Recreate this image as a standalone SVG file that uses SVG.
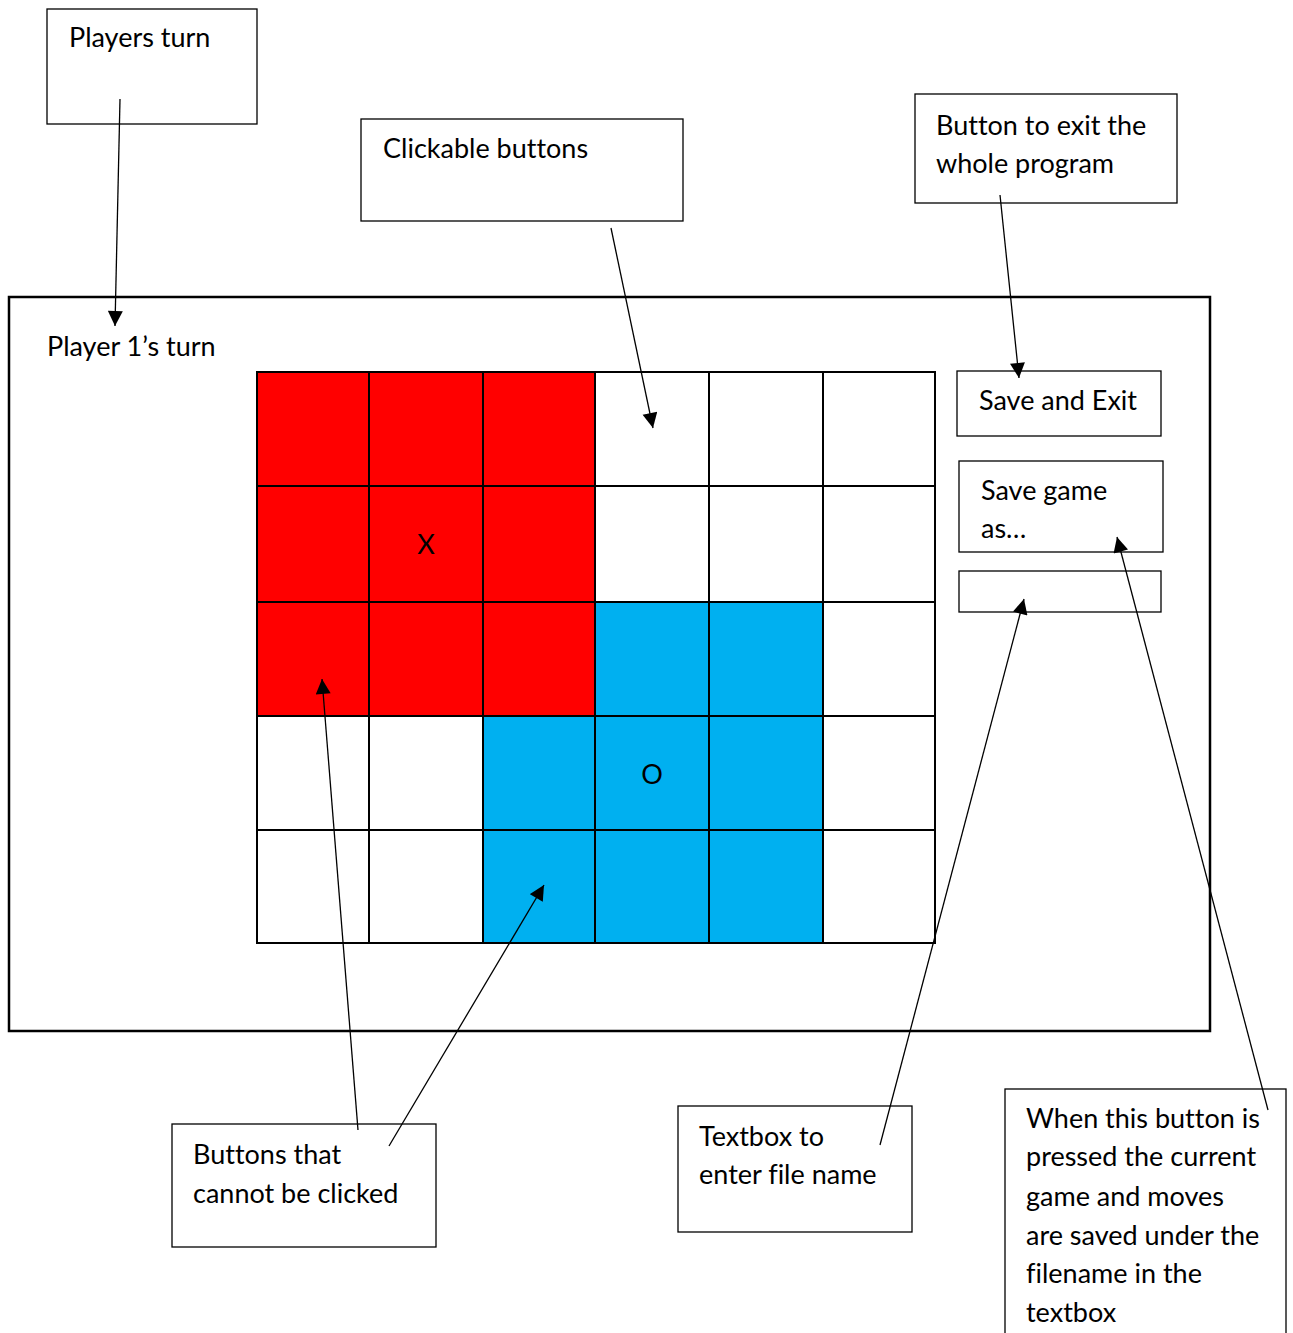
<svg xmlns="http://www.w3.org/2000/svg" width="1293" height="1333" viewBox="0 0 1293 1333">
  <style>
    .box { fill: #fff; stroke: #000; stroke-width: 1.3; }
    .frame { fill: none; stroke: #000; stroke-width: 2.5; }
    .cell { stroke: #000; stroke-width: 2; }
    .w { fill: #fff; }
    .r { fill: #ff0000; }
    .b { fill: #00b0f0; }
    .lbl { font-family: Lato, "Open Sans", "Liberation Sans", sans-serif; font-size: 27px; fill: #000; font-variant-ligatures: none; }
    .conn { stroke: #000; stroke-width: 1.3; fill: none; marker-end: url(#arrow); }
  </style>
  <defs>
    <marker id="arrow" viewBox="0 0 10 10" refX="10" refY="5" markerWidth="16" markerHeight="15" markerUnits="userSpaceOnUse" orient="auto">
      <path d="M0,0 L10,5 L0,10 Z" fill="#000"/>
    </marker>
  </defs>
  <rect width="1293" height="1333" fill="#fff"/>

  <!-- game window -->
  <g id="window">
    <rect class="frame" x="9" y="297" width="1201" height="734"/>
    <text class="lbl" x="47" y="356">Player 1’s turn</text>
  </g>

  <!-- board -->
  <g id="board">
    <rect class="cell r" x="257" y="372" width="112" height="114"/>
    <rect class="cell r" x="369" y="372" width="114" height="114"/>
    <rect class="cell r" x="483" y="372" width="112" height="114"/>
    <rect class="cell w" x="595" y="372" width="114" height="114"/>
    <rect class="cell w" x="709" y="372" width="114" height="114"/>
    <rect class="cell w" x="823" y="372" width="112" height="114"/>

    <rect class="cell r" x="257" y="486" width="112" height="116"/>
    <rect class="cell r" x="369" y="486" width="114" height="116"/>
    <rect class="cell r" x="483" y="486" width="112" height="116"/>
    <rect class="cell w" x="595" y="486" width="114" height="116"/>
    <rect class="cell w" x="709" y="486" width="114" height="116"/>
    <rect class="cell w" x="823" y="486" width="112" height="116"/>

    <rect class="cell r" x="257" y="602" width="112" height="114"/>
    <rect class="cell r" x="369" y="602" width="114" height="114"/>
    <rect class="cell r" x="483" y="602" width="112" height="114"/>
    <rect class="cell b" x="595" y="602" width="114" height="114"/>
    <rect class="cell b" x="709" y="602" width="114" height="114"/>
    <rect class="cell w" x="823" y="602" width="112" height="114"/>

    <rect class="cell w" x="257" y="716" width="112" height="114"/>
    <rect class="cell w" x="369" y="716" width="114" height="114"/>
    <rect class="cell b" x="483" y="716" width="112" height="114"/>
    <rect class="cell b" x="595" y="716" width="114" height="114"/>
    <rect class="cell b" x="709" y="716" width="114" height="114"/>
    <rect class="cell w" x="823" y="716" width="112" height="114"/>

    <rect class="cell w" x="257" y="830" width="112" height="113"/>
    <rect class="cell w" x="369" y="830" width="114" height="113"/>
    <rect class="cell b" x="483" y="830" width="112" height="113"/>
    <rect class="cell b" x="595" y="830" width="114" height="113"/>
    <rect class="cell b" x="709" y="830" width="114" height="113"/>
    <rect class="cell w" x="823" y="830" width="112" height="113"/>

    <text class="lbl" x="426" y="554" text-anchor="middle" font-size="24">X</text>
    <text class="lbl" x="652" y="784" text-anchor="middle" font-size="24">O</text>
  </g>

  <!-- side buttons -->
  <g id="save-exit">
    <rect class="box" x="957" y="371" width="204" height="65"/>
    <text class="lbl" x="979" y="410">Save and Exit</text>
  </g>
  <g id="save-as">
    <rect class="box" x="959" y="461" width="204" height="91"/>
    <text class="lbl" x="981" y="500">Save game</text>
    <text class="lbl" x="981" y="538">as…</text>
  </g>
  <g id="filename-box">
    <rect class="box" x="959" y="571" width="202" height="41"/>
  </g>

  <!-- callouts -->
  <g id="note-players-turn">
    <rect class="box" x="47" y="9" width="210" height="115"/>
    <text class="lbl" x="69" y="47">Players turn</text>
  </g>
  <g id="note-clickable">
    <rect class="box" x="361" y="119" width="322" height="102"/>
    <text class="lbl" x="383" y="158">Clickable buttons</text>
  </g>
  <g id="note-exit">
    <rect class="box" x="915" y="94" width="262" height="109"/>
    <text class="lbl" x="936" y="135">Button to exit the</text>
    <text class="lbl" x="936" y="173">whole program</text>
  </g>
  <g id="note-unclickable">
    <rect class="box" x="172" y="1124" width="264" height="123"/>
    <text class="lbl" x="193" y="1164">Buttons that</text>
    <text class="lbl" x="193" y="1203">cannot be clicked</text>
  </g>
  <g id="note-textbox">
    <rect class="box" x="678" y="1106" width="234" height="126"/>
    <text class="lbl" x="699" y="1146">Textbox to</text>
    <text class="lbl" x="699" y="1184">enter file name</text>
  </g>
  <g id="note-save-as">
    <rect class="box" x="1005" y="1089" width="281" height="260"/>
    <text class="lbl" x="1026" y="1128">When this button is</text>
    <text class="lbl" x="1026" y="1166">pressed the current</text>
    <text class="lbl" x="1026" y="1206">game and moves</text>
    <text class="lbl" x="1026" y="1245">are saved under the</text>
    <text class="lbl" x="1026" y="1283">filename in the</text>
    <text class="lbl" x="1026" y="1322">textbox</text>
  </g>

  <!-- connectors -->
  <g id="connectors">
    <line class="conn" x1="120" y1="99" x2="115" y2="326"/>
    <line class="conn" x1="611" y1="228" x2="653" y2="428"/>
    <line class="conn" x1="1000" y1="195" x2="1019" y2="378"/>
    <line class="conn" x1="358" y1="1130" x2="322" y2="679"/>
    <line class="conn" x1="389" y1="1146" x2="544" y2="885"/>
    <line class="conn" x1="880" y1="1145" x2="1024" y2="599"/>
    <line class="conn" x1="1268" y1="1110" x2="1117" y2="537"/>
  </g>
</svg>
